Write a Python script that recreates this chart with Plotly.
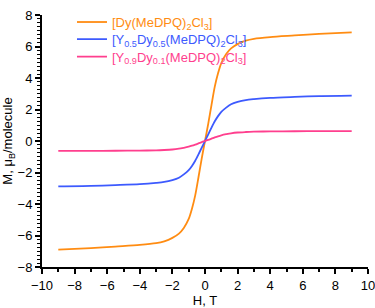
import plotly.graph_objects as go

H = [-9.0, -7.0, -5.5, -4.0, -3.0, -2.5, -2.0, -1.6, -1.3, -1.0, -0.8, -0.6, -0.4, -0.2, 0.0,
     0.2, 0.4, 0.6, 0.8, 1.0, 1.3, 1.6, 2.0, 2.5, 3.0, 4.0, 5.5, 7.0, 9.0]

M_dy = [-6.9, -6.8, -6.7, -6.6, -6.49, -6.37, -6.15, -5.88, -5.52, -4.95, -4.3, -3.45, -2.3, -1.1, 0.0,
        1.1, 2.3, 3.45, 4.3, 4.95, 5.52, 5.88, 6.15, 6.37, 6.49, 6.6, 6.7, 6.8, 6.9]

M_y05 = [-2.88, -2.85, -2.8, -2.74, -2.66, -2.6, -2.48, -2.33, -2.12, -1.85, -1.58, -1.25, -0.85, -0.42, 0.0,
         0.42, 0.85, 1.25, 1.58, 1.85, 2.12, 2.33, 2.48, 2.6, 2.66, 2.74, 2.8, 2.85, 2.88]

M_y09 = [-0.63, -0.63, -0.62, -0.61, -0.59, -0.57, -0.54, -0.49, -0.43, -0.36, -0.3, -0.23, -0.15, -0.07, 0.0,
         0.07, 0.15, 0.23, 0.3, 0.36, 0.43, 0.49, 0.54, 0.57, 0.59, 0.61, 0.62, 0.63, 0.63]

names = ["[Dy(MeDPQ)<sub>2</sub>Cl<sub>3</sub>]",
         "[Y<sub>0.5</sub>Dy<sub>0.5</sub>(MeDPQ)<sub>2</sub>Cl<sub>3</sub>]",
         "[Y<sub>0.9</sub>Dy<sub>0.1</sub>(MeDPQ)<sub>2</sub>Cl<sub>3</sub>]"]
colors = ["#FF8C12", "#3D5AFE", "#FF3F8E"]
series = [M_dy, M_y05, M_y09]
legend_ids = ["legend", "legend2", "legend3"]

FONT = "Liberation Sans, Arial"

fig = go.Figure()
for nm, col, m, lg in zip(names, colors, series, legend_ids):
    fig.add_trace(go.Scatter(
        x=H, y=m, mode="lines", line=dict(color=col, width=1.8, shape="spline", smoothing=0.8),
        name=f"<span style='color:{col}'>{nm}</span>", legend=lg))

axis_common = dict(
    showgrid=False, zeroline=False, showline=True, linecolor="black", linewidth=2,
    ticks="outside", ticklen=5, tickwidth=1.5, tickcolor="black",
    tickfont=dict(family=FONT, size=13, color="black"),
    mirror=False, ticklabeloverflow="allow", automargin=False,
)

fig.update_xaxes(range=[-10, 10], dtick=2, tick0=0,
                 minor=dict(dtick=1, ticks="outside", ticklen=3, tickwidth=1.5, tickcolor="black"),
                 title=dict(text="H, T", font=dict(family=FONT, size=13, color="black"), standoff=0),
                 **axis_common)
fig.update_yaxes(range=[-8, 8], dtick=2, tick0=0,
                 minor=dict(dtick=0.25, ticks="outside", ticklen=3, tickwidth=1.2, tickcolor="black"),
                 title=dict(text="M, μ<sub>B</sub>/molecule", font=dict(family=FONT, size=13, color="black")),
                 **axis_common)

leg_common = dict(xanchor="left", yanchor="middle", bgcolor="rgba(0,0,0,0)",
                  font=dict(family=FONT, size=13), itemwidth=30, x=0.092)

fig.update_layout(
    width=375, height=308,
    margin=dict(l=42, r=7, t=7, b=41),
    paper_bgcolor="white", plot_bgcolor="white",
    font=dict(family=FONT, size=13, color="black"),
    showlegend=True,
    legend=dict(y=0.972, **leg_common),
    legend2=dict(y=0.904, **leg_common),
    legend3=dict(y=0.835, **leg_common),
)

fig.write_html("out.html")
